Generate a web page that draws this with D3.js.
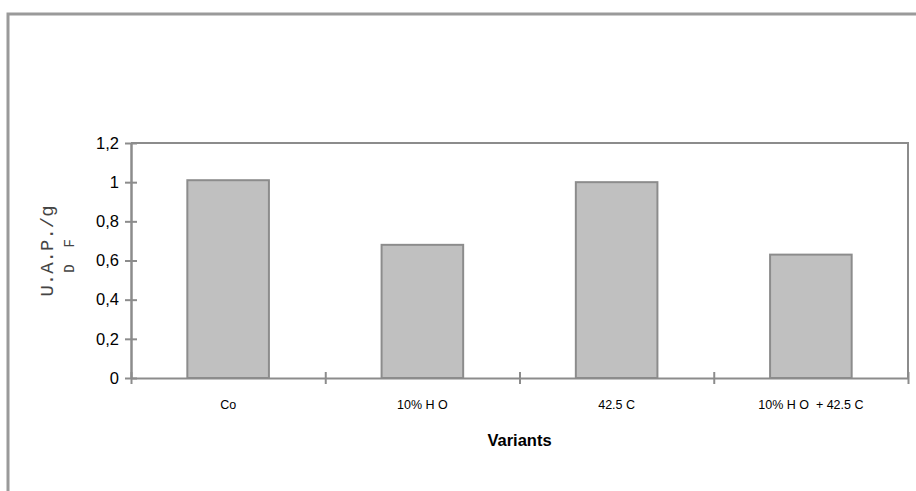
<!DOCTYPE html>
<html><head><meta charset="utf-8">
<script src="https://cdn.jsdelivr.net/npm/d3@7"></script>
<style>body{margin:0;background:#fff}svg{display:block}</style>
</head><body>
<svg id="c" width="916" height="491"></svg>
<script>
const categories = ["Co", "10% H O", "42.5 C", "10% H O  + 42.5 C"];
const values = [1.01, 0.68, 1.0, 0.63];
const yTicks = [0, 0.2, 0.4, 0.6, 0.8, 1, 1.2];
const yTickLabels = ["0", "0,2", "0,4", "0,6", "0,8", "1", "1,2"];
const xTitle = "Variants";
const yTitle = "U.A.P./g";
const ySub = "D  F";

const svg = d3.select("#c");
const L = 131, R = 908, T = 143, B = 378;

// outer frame
svg.append("path").attr("d", `M8,491 L8,14 L916,14`)
  .attr("fill", "none").attr("stroke", "#9a9a9a").attr("stroke-width", 3);

const x = d3.scaleBand().domain(categories).range([L, R]).paddingInner(0).paddingOuter(0);
const y = d3.scaleLinear().domain([0, 1.2]).range([B, T]);

// plot top & right border
svg.append("path").attr("d", `M${L},${T} L${R},${T} L${R},${B}`)
  .attr("fill", "none").attr("stroke", "#8c8c8c").attr("stroke-width", 2);

// bars
const bw = x.bandwidth() * 0.42;
svg.selectAll("rect.bar").data(values).enter().append("rect")
  .attr("class", "bar")
  .attr("x", (d, i) => x(categories[i]) + x.bandwidth() / 2 - bw / 2)
  .attr("y", d => y(d))
  .attr("width", bw)
  .attr("height", d => y(0) - y(d))
  .attr("fill", "#c0c0c0").attr("stroke", "#8c8c8c").attr("stroke-width", 2);

// y axis
const yAxis = d3.axisLeft(y).tickValues(yTicks)
  .tickFormat((d, i) => yTickLabels[i]).tickSizeInner(6).tickSizeOuter(0).tickPadding(6);
const gy = svg.append("g").attr("transform", `translate(${L},0)`).call(yAxis);
gy.select(".domain").attr("stroke", "#8c8c8c").attr("stroke-width", 2.5);
gy.selectAll(".tick line").attr("stroke", "#8c8c8c").attr("stroke-width", 2).attr("x1", 6);
gy.selectAll(".tick text").attr("font-family", "Liberation Sans, Arial, sans-serif")
  .attr("font-size", 16.5).attr("fill", "#000");

// x axis
const xb = d3.scaleLinear().domain([0, categories.length]).range([L, R]);
const xAxis = d3.axisBottom(xb).tickValues(d3.range(categories.length + 1))
  .tickFormat("").tickSizeInner(6).tickSizeOuter(0);
const gx = svg.append("g").attr("transform", `translate(0,${B})`).call(xAxis);
gx.select(".domain").attr("stroke", "#8c8c8c").attr("stroke-width", 2);
gx.selectAll(".tick line").attr("stroke", "#8c8c8c").attr("stroke-width", 2).attr("y1", -6);

// category labels
svg.selectAll("text.cat").data(categories).enter().append("text")
  .attr("class", "cat")
  .attr("x", d => x(d) + x.bandwidth() / 2)
  .attr("y", 409)
  .attr("text-anchor", "middle")
  .attr("font-family", "Liberation Sans, Arial, sans-serif")
  .attr("font-size", 12.5)
  .style("white-space", "pre")
  .text(d => d);

// x title
svg.append("text").attr("x", (L + R) / 2).attr("y", 446)
  .attr("text-anchor", "middle")
  .attr("font-family", "Liberation Sans, Arial, sans-serif")
  .attr("font-size", 16.5).attr("font-weight", "bold").text(xTitle);

// y title
svg.append("text").attr("transform", "translate(53,251) rotate(-90)")
  .attr("text-anchor", "middle")
  .attr("font-family", "Liberation Mono, DejaVu Sans Mono, monospace")
  .attr("font-size", 19).attr("fill", "#444").text(yTitle);
svg.append("text").attr("transform", "translate(74,256) rotate(-90)")
  .attr("text-anchor", "middle")
  .attr("font-family", "Liberation Mono, DejaVu Sans Mono, monospace")
  .attr("font-size", 14).attr("fill", "#444")
  .style("white-space", "pre").text(ySub);
</script>
</body></html>
